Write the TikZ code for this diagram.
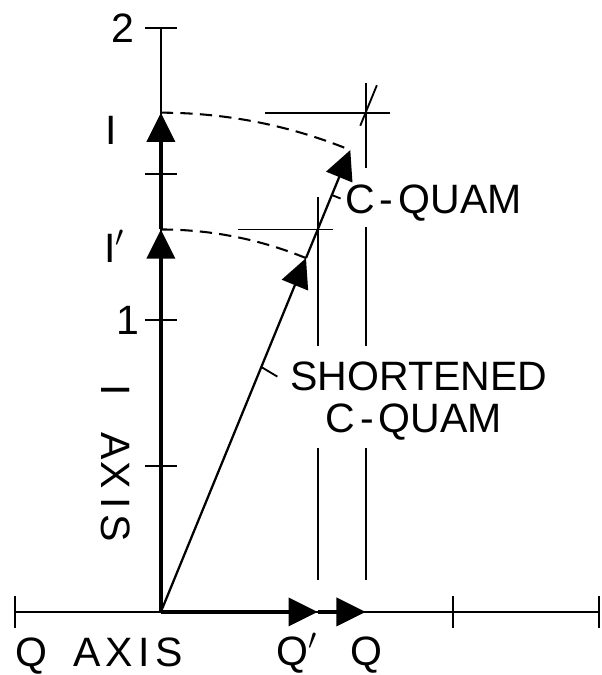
\documentclass[tikz,border=0pt]{standalone}
\usepackage{fontspec}
\setmainfont{Liberation Sans}
\usetikzlibrary{
	arrows.meta,
	positioning,
	calc
}

\begin{document}
\begin{tikzpicture}[>={Triangle[length=0.5cm,width=0.48cm]},scale=5,
	axisline/.style={line width=1pt},
	vec/.style={line width=1.8pt,->},
	cvec/.style={line width=1.1pt,->},
	dimline/.style={line width=0.9pt},
	swing/.style={line width=1pt,dash pattern=on 6pt off 3.5pt},
	lbl/.style={font=\fontsize{20}{24}\selectfont,inner sep=0pt}]
	
	\useasboundingbox (-0.551,-0.216) rectangle (1.510,2.096);
	\def\ang{67.7}
	
	% points
	\coordinate (O) at (0,0);
	\coordinate (I) at (0,1.71);
	\coordinate (Ip) at (0,1.31);
	\coordinate (C) at (\ang:1.71);
	\coordinate (Cs) at (\ang:1.31);
	\coordinate (Q) at ({1.71*cot(\ang)},0);
	\coordinate (Qp) at ({1.31*cot(\ang)},0);
	\coordinate (Itop) at (0,2);
	\coordinate (Qleft) at (-0.5,0);
	\coordinate (Qright) at (1.5,0);
	
	% axes and ticks
	\draw[axisline] (Qleft) -- (Qright);
	\draw[axisline] (O) -- (Itop);
	\foreach \y in {0.5,1,1.5,2}
		\draw[axisline] (-0.055,\y) -- (0.055,\y);
	\foreach \x in {-0.5,1,1.5}
		\draw[axisline] (\x,-0.055) -- (\x,0.055);
	
	% vectors
	\draw[vec] (O) -- (Ip);
	\draw[vec] (Ip) -- (I);
	\draw[vec] (O) -- (Qp);
	\draw[vec] (Qp) -- (Q);
	\draw[cvec] (O) -- (Cs);
	\draw[cvec] (Cs) -- (C);
	\draw[dimline] (\ang:1.80) -- (\ang:1.95);
	
	% swing of the vectors
	\draw[swing] (I) arc[start angle=90,end angle=\ang,radius=1.71];
	\draw[swing] (Ip) arc[start angle=90,end angle=\ang,radius=1.31];
	
	% projection lines
	\draw[dimline] (0.356,1.71) -- (0.784,1.71);
	\draw[dimline] (0.264,1.31) -- (0.589,1.31);
	\foreach \a/\b in {1.81/1.52,1.32/0.91,0.56/0.11}
		\draw[dimline] (Q |- 0,\a) -- (Q |- 0,\b);
	\foreach \a/\b in {1.42/0.91,0.56/0.11}
		\draw[dimline] (Qp |- 0,\a) -- (Qp |- 0,\b);
	
	% leaders
	\coordinate (lc) at ({1.428*cot(\ang)},1.428);
	\coordinate (ls) at ({0.839*cot(\ang)},0.839);
	\draw[dimline] (lc) -- ++(0.03,-0.012);
	\draw[dimline] (ls) -- ++(0.055,-0.033);
	
	% labels
	\node[lbl,anchor=east] (two) at (-0.089,2) {2};
	\node[lbl,anchor=east] (one) at (-0.072,1) {1};
	\node[lbl] (Ilbl) at (-0.171,1.651) {I};
	\node[lbl] (Iplbl) at (-0.158,1.253) {I$'$};
	\node[lbl,rotate=-90,anchor=west] (Iaxis) at (-0.154,0.78)
		{I\hspace{0.88em}A\hspace{0.05em}X\hspace{0.2em}I\hspace{0.15em}S};
	\node[lbl,anchor=base west] (Qaxis) at (-0.5,-0.186)
		{Q\hspace{0.65em}A\hspace{0.1em}X\hspace{0.15em}I\hspace{0.12em}S};
	\node[lbl,anchor=base west] (Qplbl) at (0.394,-0.182) {Q$'$};
	\node[lbl,anchor=base west] (Qlbl) at (0.647,-0.182) {Q};
	\node[lbl,anchor=base west] (cquam) at (0.630,1.366) {C\kern2.5pt-\kern2.5pt QUAM};
	\node[lbl,anchor=base west] (short) at (0.442,0.760) {SHORTENED};
	\node[lbl,anchor=base west] (cquam2) at (0.562,0.613) {C\kern2.5pt-\kern2.5pt QUAM};
	
\end{tikzpicture}
\end{document}
